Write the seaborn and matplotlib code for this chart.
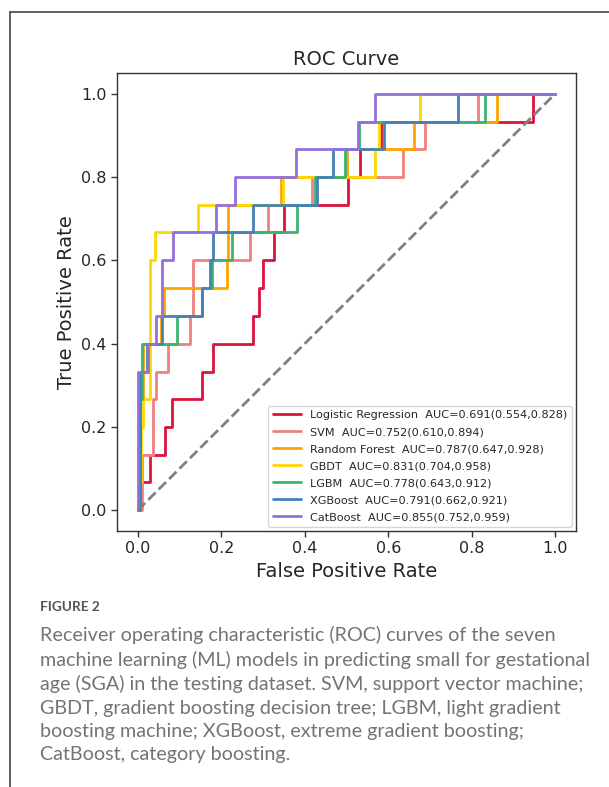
import pandas as pd
import numpy as np
import matplotlib
matplotlib.use("Agg")
import matplotlib.pyplot as plt
import seaborn as sns
from matplotlib.lines import Line2D

# ROC step vertices (FPR where TPR steps up, TPR after the step)
lr_fpr = [0.0, 0.005, 0.030, 0.065, 0.081, 0.153, 0.181, 0.277, 0.290, 0.300, 0.327, 0.351, 0.503, 0.533, 0.582, 0.948, 1.0]
lr_tpr = [0.0, 0.067, 0.133, 0.200, 0.267, 0.333, 0.400, 0.467, 0.533, 0.600, 0.667, 0.733, 0.800, 0.867, 0.933, 1.0, 1.0]

svm_fpr = [0.0, 0.010, 0.037, 0.043, 0.073, 0.125, 0.131, 0.269, 0.313, 0.417, 0.635, 0.687, 0.816, 1.0]
svm_tpr = [0.0, 0.133, 0.267, 0.333, 0.400, 0.467, 0.600, 0.667, 0.733, 0.800, 0.867, 0.933, 1.0, 1.0]

rf_fpr = [0.0, 0.003, 0.013, 0.055, 0.062, 0.213, 0.217, 0.343, 0.501, 0.662, 0.860, 1.0]
rf_tpr = [0.0, 0.267, 0.400, 0.467, 0.533, 0.600, 0.733, 0.800, 0.867, 0.933, 1.0, 1.0]

gbdt_fpr = [0.0, 0.005, 0.008, 0.013, 0.029, 0.042, 0.145, 0.347, 0.569, 0.577, 0.677, 1.0]
gbdt_tpr = [0.0, 0.067, 0.200, 0.267, 0.600, 0.667, 0.733, 0.800, 0.867, 0.933, 1.0, 1.0]

lgbm_fpr = [0.0, 0.005, 0.010, 0.093, 0.153, 0.177, 0.225, 0.381, 0.425, 0.497, 0.531, 0.832, 1.0]
lgbm_tpr = [0.0, 0.267, 0.400, 0.467, 0.533, 0.600, 0.667, 0.733, 0.800, 0.867, 0.933, 1.0, 1.0]

xgb_fpr = [0.0, 0.004, 0.023, 0.057, 0.153, 0.173, 0.181, 0.277, 0.430, 0.467, 0.589, 0.767, 1.0]
xgb_tpr = [0.0, 0.333, 0.400, 0.467, 0.533, 0.600, 0.667, 0.733, 0.800, 0.867, 0.933, 1.0, 1.0]

cat_fpr = [0.0, 0.001, 0.025, 0.044, 0.057, 0.085, 0.188, 0.233, 0.379, 0.528, 0.569, 1.0]
cat_tpr = [0.0, 0.333, 0.400, 0.467, 0.600, 0.667, 0.733, 0.800, 0.867, 0.933, 1.0, 1.0]

model_names = ["Logistic Regression", "SVM", "Random Forest", "GBDT", "LGBM", "XGBoost", "CatBoost"]
auc_text = ["0.691(0.554,0.828)", "0.752(0.610,0.894)", "0.787(0.647,0.928)", "0.831(0.704,0.958)",
            "0.778(0.643,0.912)", "0.791(0.662,0.921)", "0.855(0.752,0.959)"]
colors = ["#DC143C", "#F08080", "#FFA500", "#FFD700", "#3CB371", "#4682B4", "#9370DB"]

caption = ("Receiver operating characteristic (ROC) curves of the seven\n"
           "machine learning (ML) models in predicting small for gestational\n"
           "age (SGA) in the testing dataset. SVM, support vector machine;\n"
           "GBDT, gradient boosting decision tree; LGBM, light gradient\n"
           "boosting machine; XGBoost, extreme gradient boosting;\n"
           "CatBoost, category boosting.")

# Long table for seaborn
curves = [(lr_fpr, lr_tpr), (svm_fpr, svm_tpr), (rf_fpr, rf_tpr), (gbdt_fpr, gbdt_tpr),
          (lgbm_fpr, lgbm_tpr), (xgb_fpr, xgb_tpr), (cat_fpr, cat_tpr)]
labels = [f"{n}  AUC={a}" for n, a in zip(model_names, auc_text)]
frames = []
for lab, (f, t) in zip(labels, curves):
    frames.append(pd.DataFrame({"fpr": f, "tpr": t, "model": lab}))
df = pd.concat(frames, ignore_index=True)

sns.set_style("ticks")
plt.rcParams["font.family"] = ["DejaVu Sans"]

fig = plt.figure(figsize=(6.09, 7.87), dpi=100)
ax = fig.add_axes([117 / 609, 1 - 531 / 787, 459 / 609, 458 / 787])

sns.lineplot(data=df, x="fpr", y="tpr", hue="model", hue_order=labels,
             palette=dict(zip(labels, colors)), estimator=None, sort=False,
             drawstyle="steps-post", linewidth=2, ax=ax)
ax.plot([0, 1], [0, 1], linestyle="--", color="gray", linewidth=2)

ax.set_xlim(-0.05, 1.05)
ax.set_ylim(-0.05, 1.05)
ax.set_xticks(np.arange(0, 1.01, 0.2))
ax.set_yticks(np.arange(0, 1.01, 0.2))
ax.tick_params(labelsize=11.5, length=4, width=1, color="#333333")
for s in ax.spines.values():
    s.set_color("#333333")
    s.set_linewidth(1)
ax.set_xlabel("False Positive Rate", fontsize=14)
ax.set_ylabel("True Positive Rate", fontsize=14)
ax.set_title("ROC Curve", fontsize=14)

sns.move_legend(ax, "lower right", title=None, fontsize=8.1, handlelength=2.5,
                frameon=True, borderaxespad=0.4, labelspacing=0.62)

# page frame and caption
fig.add_artist(Line2D([9.5 / 609, 9.5 / 609], [0, 1 - 12 / 787], transform=fig.transFigure,
                      color="#444444", linewidth=1.2))
fig.add_artist(Line2D([9.5 / 609, 1], [1 - 12 / 787, 1 - 12 / 787], transform=fig.transFigure,
                      color="#444444", linewidth=1.2))
fig.text(40 / 609, 1 - 607 / 787, "FIGURE 2", fontsize=9.8, color="#555555",
         family="Lato", weight="bold", va="center", ha="left")
fig.text(40 / 609, 1 - 626 / 787, caption, fontsize=14.2, color="#747474",
         family="Lato", va="top", ha="left", linespacing=1.44)

fig.savefig("out.png", dpi=100)
plt.close(fig)
